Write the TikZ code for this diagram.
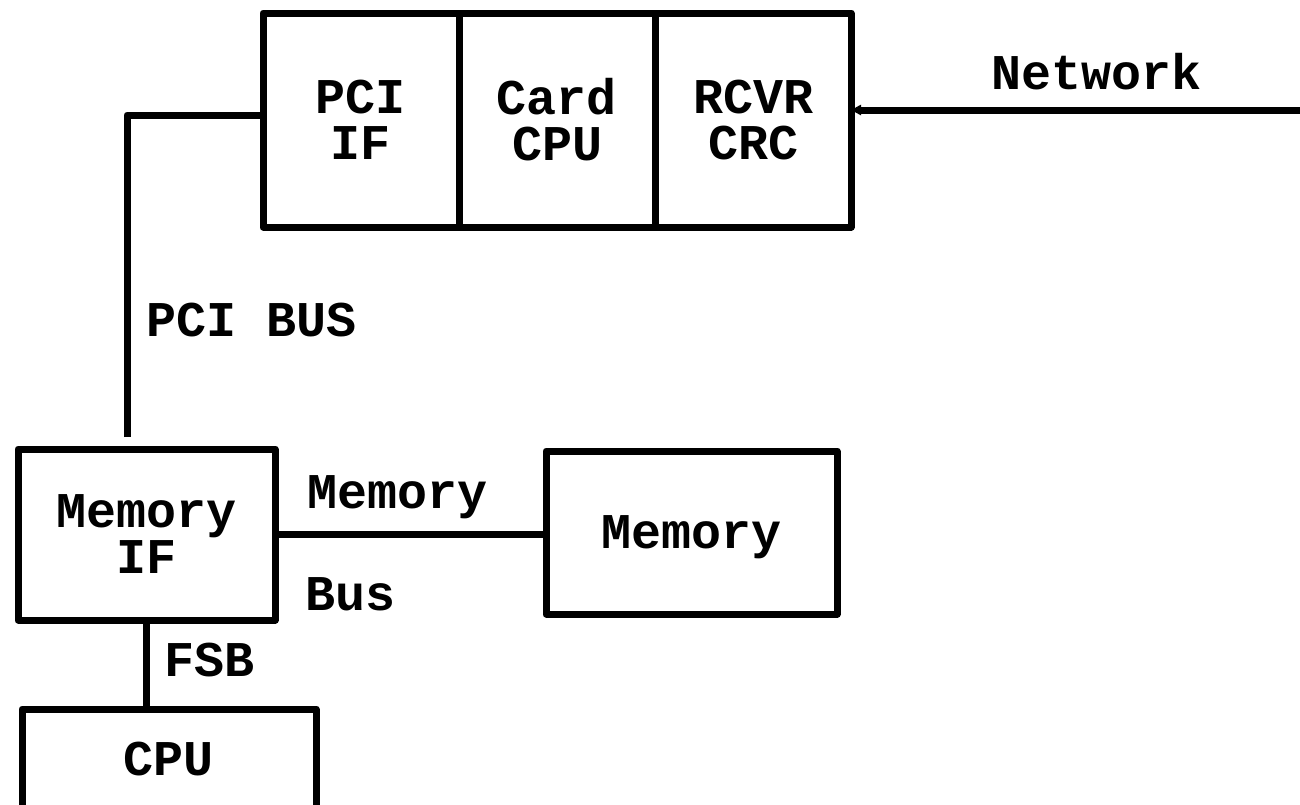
\documentclass[tikz,border=0pt]{standalone}
\usepackage{fontspec}
\setmainfont{Liberation Mono}
\usepackage{tikz}
\usetikzlibrary{positioning,arrows.meta}

\begin{document}
\begin{tikzpicture}
        [x=1pt,y=-1pt,line width=7pt,line join=round,
         every node/.style={font=\fontsize{50}{46}\selectfont\bfseries},
         blk/.style={draw,align=center,inner sep=0pt,outer sep=0pt,
                     minimum width=#1},
         lbl/.style={inner sep=0pt}]
        \useasboundingbox (0,0) rectangle (1300,804);
        % card
        \node[blk=196pt,minimum height=214pt](pcif) at (361,120){PCI\\IF};
        \node[blk=196pt,minimum height=214pt](card)[right =0pt of pcif]{Card\\CPU};
        \node[blk=196pt,minimum height=214pt](rcvr)[right =0pt of card]{RCVR\\CRC};
        % host
        \node[blk=257pt,minimum height=171pt](memif) at (146.5,534.5){Memory\\IF};
        \node[blk=291pt,minimum height=163pt,text depth=0pt](mem) at (691.5,532.5){Memory};
        \node[blk=294pt,minimum height=100pt](cpu) at (169,759){CPU};
        % bus ends
        \coordinate (busend) at (127,437);
        \coordinate (pcibend) at (127,115);
        \coordinate (netend) at (1300,110);
        \draw (busend) -- (pcibend) -- (pcibend -| pcif.west);
        \draw[-{Triangle[length=10pt,width=10pt]}] (netend) -- (netend -| rcvr.east);
        \draw (memif.east) -- (memif.east -| mem.west);
        \draw (memif.south) -- (memif.south |- cpu.north);
        % labels
        \node[lbl](net) at (1097,72){Network};
        \node[lbl](pcibus) at (252,320){PCI BUS};
        \node[lbl](membus) at (398,497){Memory};
        \node[lbl](bus) at (351,594){Bus};
        \node[lbl](fsb) at (210,660){FSB};
\end{tikzpicture}
\end{document}
